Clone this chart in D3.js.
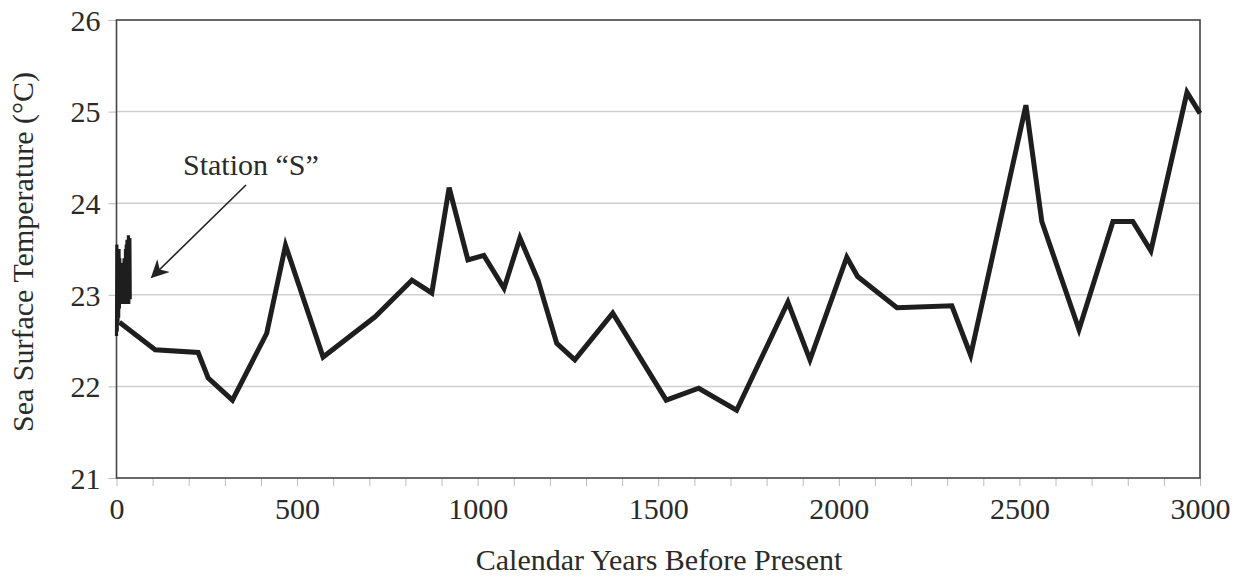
<!DOCTYPE html>
<html>
<head>
<meta charset="utf-8">
<script src="https://cdn.jsdelivr.net/npm/d3@7"></script>
<style>
  html, body { margin: 0; padding: 0; background: #fff; }
  svg text { font-family: "Liberation Serif", "DejaVu Serif", serif; fill: #2a2a2a; }
</style>
</head>
<body>
<svg id="chart" width="1243" height="577"></svg>
<script>
// Sediment-core reconstruction (years before present, °C)
const coreYears = [8, 107, 226, 254, 321, 416, 468, 572, 716, 818, 873, 921, 973, 1017, 1073, 1117, 1167, 1219, 1269, 1374, 1522, 1612, 1717, 1859, 1920, 2022, 2052, 2161, 2313, 2365, 2518, 2562, 2665, 2759, 2814, 2864, 2964, 3000];
const coreTemps = [22.7, 22.4, 22.37, 22.09, 21.85, 22.58, 23.54, 22.32, 22.76, 23.16, 23.02, 24.17, 23.38, 23.43, 23.07, 23.62, 23.16, 22.47, 22.29, 22.8, 21.85, 21.98, 21.74, 22.92, 22.29, 23.41, 23.2, 22.86, 22.88, 22.34, 25.07, 23.8, 22.62, 23.8, 23.8, 23.48, 25.21, 24.98];

// Instrumental record at Station "S"
const stationYears = [0, 1, 2, 3, 4, 5, 6, 7, 8, 9, 10, 11, 12, 13, 14, 15, 16, 17, 18, 19, 20, 21, 22, 23, 24, 25, 26, 27, 28, 29, 30, 31, 32, 33, 34, 35, 36, 37, 38];
const stationTemps = [22.55, 23.55, 22.6, 23.5, 22.7, 23.45, 22.75, 23.5, 22.85, 23.4, 22.9, 23.3, 22.95, 23.35, 22.9, 23.3, 22.95, 23.35, 22.9, 23.3, 22.95, 23.4, 22.95, 23.3, 22.95, 23.5, 22.9, 23.55, 22.95, 23.6, 22.9, 23.6, 22.95, 23.65, 22.9, 23.6, 22.95, 23.62, 22.95];

const yTicks = [21, 22, 23, 24, 25, 26];
const xLabelTicks = [0, 500, 1000, 1500, 2000, 2500, 3000];
const xMinorTicks = d3.range(0, 3001, 100);

const svg = d3.select("#chart");
const plotLeft = 116.5, plotRight = 1200, plotTop = 20, plotBottom = 478;
const labelSize = 30;

const x = d3.scaleLinear().domain([0, 3000]).range([plotLeft, plotRight]);
const y = d3.scaleLinear().domain([21, 26]).range([plotBottom, plotTop]);

// horizontal gridlines
svg.append("g")
  .selectAll("line")
  .data(yTicks.filter(t => t > 21 && t < 26))
  .join("line")
  .attr("x1", plotLeft).attr("x2", plotRight)
  .attr("y1", d => y(d)).attr("y2", d => y(d))
  .attr("stroke", "#cfcfcf").attr("stroke-width", 1.5);

// y axis
const yAxis = svg.append("g")
  .attr("transform", `translate(${plotLeft},0)`)
  .call(d3.axisLeft(y).tickValues(yTicks).tickSize(8).tickPadding(8).tickFormat(d3.format("d")));
yAxis.select(".domain").remove();
yAxis.selectAll(".tick line").attr("stroke", "#bbb");
yAxis.selectAll(".tick text")
  .attr("font-size", labelSize)
  .attr("dy", "0.34em")
  .style("font-family", "'Liberation Serif', serif")
  .attr("fill", "#2a2a2a");

// x axis minor ticks
const xAxis = svg.append("g")
  .attr("transform", `translate(0,${plotBottom})`)
  .call(d3.axisBottom(x).tickValues(xMinorTicks).tickSize(8).tickFormat(""));
xAxis.select(".domain").remove();
xAxis.selectAll(".tick line").attr("stroke", "#bbb");

// x axis labels
const xLab = svg.append("g")
  .attr("transform", `translate(0,${plotBottom})`)
  .call(d3.axisBottom(x).tickValues(xLabelTicks).tickSize(0).tickPadding(20).tickFormat(d3.format("d")));
xLab.select(".domain").remove();
xLab.selectAll(".tick text")
  .attr("font-size", labelSize)
  .style("font-family", "'Liberation Serif', serif")
  .attr("fill", "#2a2a2a");

// frame
svg.append("rect")
  .attr("x", plotLeft).attr("y", plotTop)
  .attr("width", plotRight - plotLeft).attr("height", plotBottom - plotTop)
  .attr("fill", "none").attr("stroke", "#444").attr("stroke-width", 1.6);

const line = d3.line().x(d => x(d[0])).y(d => y(d[1]));

// Station "S" series
svg.append("path")
  .datum(stationYears.map((yr, i) => [yr, stationTemps[i]]))
  .attr("d", line)
  .attr("fill", "none")
  .attr("stroke", "#1e1e1e")
  .attr("stroke-width", 3.2)
  .attr("stroke-linejoin", "miter");

// core series
svg.append("path")
  .datum(coreYears.map((yr, i) => [yr, coreTemps[i]]))
  .attr("d", line)
  .attr("fill", "none")
  .attr("stroke", "#1e1e1e")
  .attr("stroke-width", 5)
  .attr("stroke-linejoin", "miter")
  .attr("stroke-miterlimit", 4);

// annotation arrow
const defs = svg.append("defs");
defs.append("marker")
  .attr("id", "arrowhead")
  .attr("viewBox", "0 0 10 10")
  .attr("refX", 9).attr("refY", 5)
  .attr("markerWidth", 24).attr("markerHeight", 18)
  .attr("markerUnits", "userSpaceOnUse")
  .attr("orient", "auto")
  .append("path")
  .attr("d", "M0,0 L10,5 L0,10 L3,5 Z")
  .attr("fill", "#222");

svg.append("line")
  .attr("x1", 246).attr("y1", 185)
  .attr("x2", 152).attr("y2", 277)
  .attr("stroke", "#222").attr("stroke-width", 1.6)
  .attr("marker-end", "url(#arrowhead)");

svg.append("text")
  .attr("x", 183).attr("y", 175)
  .attr("font-size", labelSize)
  .text("Station “S”");

// axis titles
svg.append("text")
  .attr("transform", `translate(33,252) rotate(-90)`)
  .attr("text-anchor", "middle")
  .attr("font-size", labelSize)
  .text("Sea Surface Temperature (°C)");

svg.append("text")
  .attr("x", 659).attr("y", 570)
  .attr("text-anchor", "middle")
  .attr("font-size", labelSize)
  .text("Calendar Years Before Present");
</script>
</body>
</html>
